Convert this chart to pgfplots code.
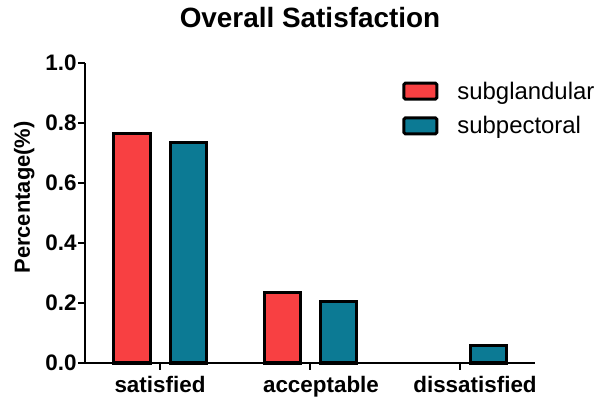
\documentclass[border=0pt]{standalone}
\usepackage{fontspec}
\setmainfont{Liberation Sans}
\usepackage{pgfplots}
\pgfplotsset{compat=1.18}
\definecolor{sgred}{RGB}{248,64,66}
\definecolor{spteal}{RGB}{12,122,148}

\begin{document}
\begin{tikzpicture}
\path[use as bounding box] (0,0) rectangle (600bp,404bp);
\begin{axis}[
    at={(85bp,41bp)}, anchor=south west,
    scale only axis, width=450bp, height=300bp,
    xmin=-0.5, xmax=2.5, ymin=0, ymax=1,
    axis x line*=bottom, axis y line*=left,
    axis line style={line width=2.5bp},
    tick style={line width=2.5bp, black},
    major tick length=7bp, tick align=outside,
    xtick={0,1,2},
    xticklabels={satisfied,\hspace*{22bp}acceptable,\hspace*{30bp}dissatisfied},
    ytick={0,0.2,0.4,0.6,0.8,1},
    yticklabel style={xshift=2bp, /pgf/number format/.cd, fixed, fixed zerofill, precision=1, assume math mode=true},
    ticklabel style={font=\bfseries\fontsize{22.5}{24}\selectfont},
    xticklabel style={yshift=-3bp},
    ylabel={Percentage(\%)},
    ylabel shift=4bp,
    ylabel style={at={(ticklabel cs:0.552)}, font=\bfseries\fontsize{22}{24}\selectfont},
    title={Overall Satisfaction},
    title style={yshift=26bp, font=\bfseries\fontsize{28}{30}\selectfont},
    ybar=20bp, bar width=36bp,
    clip=false,
    legend style={draw=none, fill=none, at={(rel axis cs:0.705,0.945)}, anchor=north west,
        font=\fontsize{24}{26}\selectfont, row sep=12bp, inner sep=0pt,
        /tikz/every odd column/.append style={column sep=17bp}},
    legend cell align=left,
    legend image code/.code={\draw[#1, draw=black, line width=3bp, rounded corners=1.5bp] (1.5bp,-8bp) rectangle (34.5bp,8bp);},
]
\addplot[fill=sgred, draw=black, line width=3bp] coordinates {(0,0.765) (1,0.235)};
\addplot[fill=spteal, draw=black, line width=3bp] coordinates {(0,0.735) (1,0.206) (2,0.059)};
\legend{subglandular, subpectoral}
\end{axis}
\end{tikzpicture}
\end{document}
